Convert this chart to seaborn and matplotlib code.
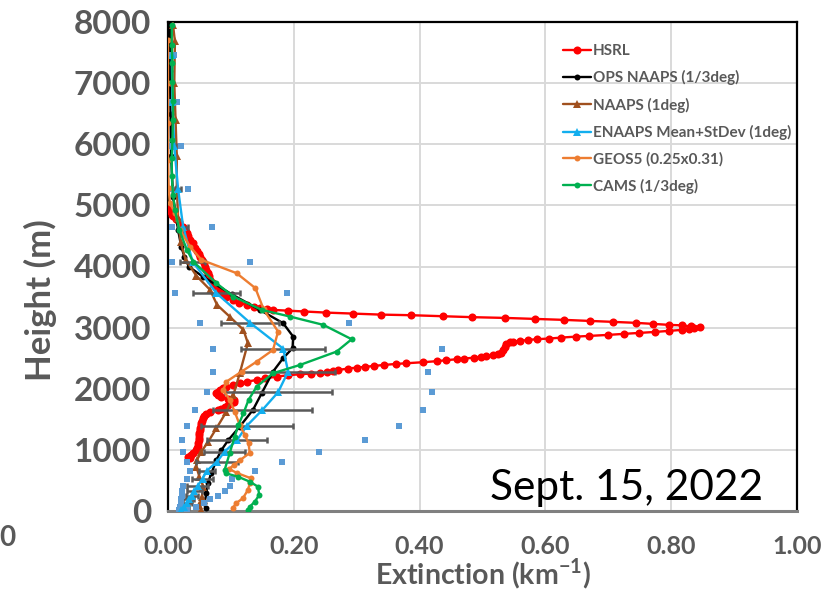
import matplotlib
matplotlib.use("Agg")
import matplotlib.pyplot as plt
import seaborn as sns

# ---------------- data ----------------
# HSRL lidar profile
hsrl_h = [4940, 4900, 4850, 4818, 4770, 4720, 4654, 4600, 4550, 4500, 4436, 4380, 4305, 4250,
          4200, 4163, 4100, 4050, 4000, 3945, 3890, 3840, 3781, 3730, 3672, 3620, 3560, 3508,
          3454, 3410, 3372, 3340, 3318, 3300, 3290, 3278,
          3263, 3246, 3230, 3213, 3203, 3187, 3171, 3159, 3143, 3127, 3110, 3094, 3078, 3061,
          3045, 3037, 3020, 3010, 3001, 2979, 2963, 2947, 2930, 2914, 2898, 2881, 2865, 2853,
          2837, 2821, 2811, 2799, 2783, 2772, 2762, 2734, 2690, 2636, 2591, 2570, 2554, 2537,
          2526, 2510, 2493, 2484, 2467, 2451, 2434, 2418, 2406, 2390, 2374, 2357, 2346, 2330,
          2308, 2292, 2275, 2259, 2248, 2238, 2220, 2199, 2170, 2145, 2115, 2090, 2060, 2035,
          2010, 1981, 1955, 1927, 1900, 1870, 1840, 1817, 1790, 1760, 1730, 1700, 1670, 1650,
          1626, 1590, 1560, 1522, 1480, 1440, 1400, 1360, 1326, 1280, 1240, 1200, 1160, 1113,
          1070, 1030, 990, 950, 920, 889, 860]
hsrl_x = [0.000, 0.003, 0.006, 0.008, 0.013, 0.018, 0.024, 0.027, 0.030, 0.032, 0.035, 0.039,
          0.043, 0.046, 0.049, 0.051, 0.054, 0.057, 0.059, 0.061, 0.063, 0.065, 0.067, 0.071,
          0.077, 0.082, 0.087, 0.093, 0.103, 0.113, 0.125, 0.136, 0.146, 0.157, 0.167, 0.190,
          0.217, 0.251, 0.294, 0.338, 0.387, 0.437, 0.484, 0.535, 0.584, 0.629, 0.671, 0.708,
          0.744, 0.771, 0.797, 0.817, 0.832, 0.845, 0.837, 0.829, 0.817, 0.797, 0.775, 0.749,
          0.725, 0.700, 0.670, 0.649, 0.625, 0.606, 0.586, 0.573, 0.560, 0.549, 0.543, 0.538,
          0.535, 0.533, 0.530, 0.524, 0.516, 0.506, 0.498, 0.487, 0.471, 0.460, 0.442, 0.427,
          0.405, 0.379, 0.362, 0.344, 0.327, 0.313, 0.300, 0.286, 0.271, 0.262, 0.252, 0.241,
          0.228, 0.210, 0.190, 0.173, 0.155, 0.141, 0.125, 0.114, 0.103, 0.093, 0.088, 0.083,
          0.080, 0.077, 0.080, 0.085, 0.095, 0.105, 0.105, 0.100, 0.095, 0.090, 0.085, 0.080,
          0.067, 0.060, 0.058, 0.056, 0.054, 0.053, 0.052, 0.051, 0.051, 0.050, 0.050, 0.049,
          0.049, 0.048, 0.047, 0.046, 0.044, 0.040, 0.036, 0.032, 0.035]

# OPS NAAPS (1/3deg)
ops_h = [44, 126, 290, 453, 617, 835, 998, 1162, 1380, 1653, 1927, 2281, 2500, 2663, 2853,
         3073, 3290, 3547, 3836, 4000, 4163, 4327, 4600, 5145, 5800, 6500, 7200, 7950]
ops_x = [0.061, 0.058, 0.061, 0.063, 0.069, 0.077, 0.085, 0.096, 0.114, 0.135, 0.149, 0.167,
         0.183, 0.198, 0.199, 0.183, 0.146, 0.101, 0.055, 0.033, 0.026, 0.021, 0.016, 0.008,
         0.005, 0.004, 0.003, 0.003]

# NAAPS (1deg)
naaps_h = [16, 100, 234, 400, 560, 725, 835, 971, 1134, 1353, 1626, 1900, 2250, 2745, 2963,
           3181, 3372, 3617, 3850, 4109, 4400, 4800, 5300, 5800, 6400, 7000, 7683, 7950]
naaps_x = [0.053, 0.050, 0.054, 0.056, 0.050, 0.045, 0.046, 0.053, 0.064, 0.077, 0.093, 0.104,
           0.114, 0.127, 0.120, 0.098, 0.078, 0.067, 0.045, 0.028, 0.020, 0.016, 0.014, 0.014,
           0.012, 0.010, 0.011, 0.008]

# ENAAPS ensemble (1deg): mean, standard deviation, member min and max
ens_h = [16, 70, 130, 190, 250, 320, 409, 530, 660, 807, 971, 1162, 1391, 1653, 1943, 2281,
         2657, 3083, 3564, 4081, 4654, 5271, 5964, 6684, 7465]
ens_mean = [0.021, 0.026, 0.030, 0.033, 0.038, 0.042, 0.047, 0.055, 0.062, 0.078, 0.090, 0.110,
            0.125, 0.150, 0.175, 0.191, 0.183, 0.130, 0.077, 0.039, 0.024, 0.016, 0.010, 0.007,
            0.006]
ens_std = [0.006, 0.007, 0.008, 0.009, 0.010, 0.012, 0.016, 0.017, 0.013, 0.034, 0.032, 0.048,
           0.073, 0.079, 0.085, 0.074, 0.067, 0.046, 0.037, 0.020, 0.008, 0.005, 0.003, 0.002,
           0.001]
ens_min = [0.018, 0.019, 0.020, 0.021, 0.022, 0.023, 0.024, 0.030, 0.035, 0.031, 0.024, 0.023,
           0.030, 0.043, 0.062, 0.072, 0.072, 0.051, 0.011, 0.006, 0.006, 0.004, 0.003, 0.003,
           0.004]
ens_max = [0.030, 0.045, 0.058, 0.067, 0.080, 0.090, 0.098, 0.101, 0.138, 0.181, 0.240, 0.313,
           0.367, 0.406, 0.420, 0.413, 0.436, 0.288, 0.189, 0.130, 0.070, 0.032, 0.020, 0.014,
           0.009]

# GEOS5 (0.25x0.31)
geos_h = [44, 126, 208, 344, 450, 535, 620, 690, 753, 835, 950, 1108, 1250, 1408, 1626, 1817,
          1981, 2117, 2281, 2444, 2636, 2935, 3300, 3645, 3891, 4109, 4327, 4600, 4874, 5037,
          5283, 5745, 6346, 7000, 7710]
geos_x = [0.103, 0.108, 0.119, 0.127, 0.130, 0.132, 0.110, 0.097, 0.105, 0.115, 0.130, 0.128,
          0.122, 0.114, 0.106, 0.098, 0.088, 0.093, 0.117, 0.141, 0.167, 0.175, 0.152, 0.139,
          0.109, 0.053, 0.035, 0.019, 0.011, 0.003, 0.001, 0.000, 0.000, 0.000, 0.000]

# CAMS (1/3deg)
cams_h = [16, 70, 153, 262, 398, 480, 562, 617, 671, 944, 1217, 1408, 1599, 1817, 2035, 2254,
          2390, 2608, 2810, 3045, 3181, 3290, 3508, 3727, 4081, 4272, 4600, 4927, 5173, 5473,
          5773, 6073, 6400, 6700, 7012, 7328, 7628, 7956]
cams_x = [0.127, 0.130, 0.138, 0.145, 0.143, 0.130, 0.111, 0.092, 0.090, 0.098, 0.106, 0.112,
          0.120, 0.128, 0.141, 0.167, 0.210, 0.268, 0.292, 0.247, 0.194, 0.149, 0.104, 0.077,
          0.040, 0.030, 0.018, 0.011, 0.008, 0.006, 0.006, 0.007, 0.008, 0.008, 0.007, 0.007,
          0.006, 0.006]

x_ticks = [0.0, 0.2, 0.4, 0.6, 0.8, 1.0]
x_tick_labels = ["0.00", "0.20", "0.40", "0.60", "0.80", "1.00"]
y_ticks = [0, 1000, 2000, 3000, 4000, 5000, 6000, 7000, 8000]

# ---------------- figure ----------------
sns.set_theme(style="white")
plt.rcParams['font.family'] = ['Lato', 'DejaVu Sans']

W, H = 834, 592
fig = plt.figure(figsize=(W / 100, H / 100), dpi=100)
ax = fig.add_axes([168 / W, 1 - 511 / H, (797 - 168) / W, (511 - 22) / H])

GREY = '#595959'
ax.grid(True, color='#D9D9D9', lw=1.4)
ax.set_axisbelow(True)

ms_small = 4.3
sns.lineplot(x=hsrl_x, y=hsrl_h, sort=False, estimator=None, color='#FF0000', lw=1.7,
             marker='o', markersize=5.8, markeredgewidth=0, label='HSRL', ax=ax, zorder=3)
sns.lineplot(x=ops_x, y=ops_h, sort=False, estimator=None, color='#000000', lw=1.7,
             marker='o', markersize=ms_small, markeredgewidth=0, label='OPS NAAPS (1/3deg)',
             ax=ax, zorder=4)
sns.lineplot(x=naaps_x, y=naaps_h, sort=False, estimator=None, color='#A0501E', lw=1.7,
             marker='^', markersize=5.8, markeredgewidth=0, label='NAAPS (1deg)', ax=ax, zorder=5)
ax.errorbar(ens_mean, ens_h, xerr=ens_std, fmt='none', ecolor=GREY, elinewidth=1.8,
            capsize=2.5, capthick=1.8, zorder=5.5)
sns.scatterplot(x=ens_min, y=ens_h, marker='s', s=14, color='#5B9BD5', linewidth=0, ax=ax,
                zorder=5.6, legend=False)
sns.scatterplot(x=ens_max, y=ens_h, marker='s', s=14, color='#5B9BD5', linewidth=0, ax=ax,
                zorder=5.6, legend=False)
sns.lineplot(x=ens_mean, y=ens_h, sort=False, estimator=None, color='#12AEEE', lw=1.7,
             marker='^', markersize=5.8, markeredgewidth=0, label='ENAAPS Mean+StDev (1deg)',
             ax=ax, zorder=6)
sns.lineplot(x=geos_x, y=geos_h, sort=False, estimator=None, color='#ED7D31', lw=1.7,
             marker='o', markersize=ms_small, markeredgewidth=0, label='GEOS5 (0.25x0.31)',
             ax=ax, zorder=7)
sns.lineplot(x=cams_x, y=cams_h, sort=False, estimator=None, color='#00B050', lw=1.7,
             marker='o', markersize=ms_small, markeredgewidth=0, label='CAMS (1/3deg)',
             ax=ax, zorder=8)

ax.set_xlim(0, 1.0)
ax.set_ylim(0, 8000)
ax.set_xticks(x_ticks)
ax.set_xticklabels(x_tick_labels)
ax.set_yticks(y_ticks)
ax.set_yticklabels([str(v) for v in y_ticks])
ax.tick_params(axis='both', length=0)
ax.tick_params(axis='x', pad=17, labelsize=18, labelcolor=GREY)
ax.tick_params(axis='y', pad=12, labelsize=24, labelcolor=GREY)
for lab in ax.get_xticklabels() + ax.get_yticklabels():
    lab.set_fontweight('bold')
ax.set_xlabel('')
ax.set_ylabel('')

for side in ['top', 'right', 'left']:
    ax.spines[side].set_color('#000000')
    ax.spines[side].set_linewidth(1.6)
ax.spines['bottom'].set_color('#808080')
ax.spines['bottom'].set_linewidth(2.2)

handles, labels = ax.get_legend_handles_labels()
leg = ax.legend(handles, labels, loc='upper left', bbox_to_anchor=(563 / W, 1 - 44 / H),
                bbox_transform=fig.transFigure, frameon=False,
                handlelength=1.8, handletextpad=0.15, labelspacing=0.8, borderpad=0,
                borderaxespad=0, prop={'weight': 'bold', 'size': 11})
for t in leg.get_texts():
    t.set_color(GREY)

fig.text(40 / W, 1 - 300 / H, 'Height (m)', rotation=90, ha='center', va='center',
         fontsize=25, fontweight='bold', color=GREY)
fig.text(483 / W, 1 - 574 / H, 'Extinction (km$^{\\mathregular{-1}}$)', ha='center',
         va='center', fontsize=20.5, fontweight='bold', color=GREY)
fig.text(490 / W, 1 - 488 / H, 'Sept. 15, 2022', ha='left', va='center', fontsize=30.5,
         color='#000000', zorder=10)
fig.text(16 / W, 1 - 538 / H, '0', ha='right', va='center', fontsize=20, fontweight='bold',
         color=GREY)

fig.savefig('out.png', dpi=100)
